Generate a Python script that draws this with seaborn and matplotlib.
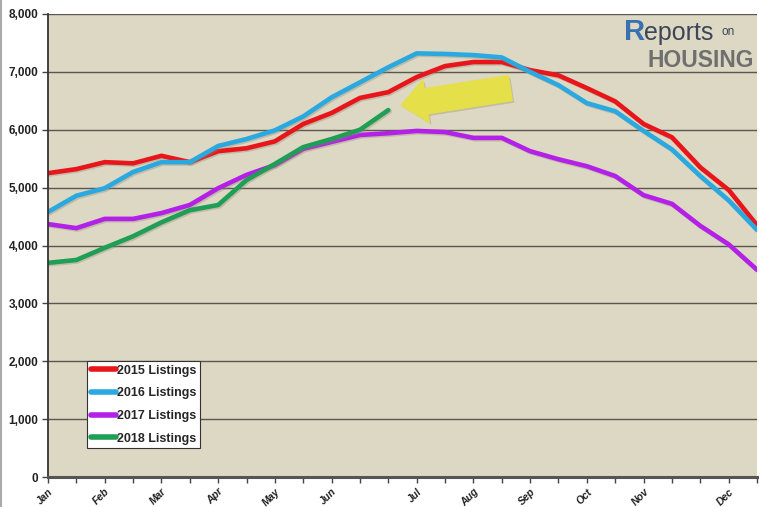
import numpy as np
import pandas as pd
import matplotlib
matplotlib.use("Agg")
import matplotlib.pyplot as plt
import matplotlib.patheffects as pe
import seaborn as sns

# ---- data (biweekly points, Jan..Dec) ----
periods = list(range(26))
listings_2015 = [5250, 5320, 5440, 5420, 5550, 5440, 5630, 5680, 5800, 6100, 6290, 6550, 6650,
                 6910, 7100, 7170, 7170, 7030, 6940, 6720, 6490, 6100, 5870, 5350, 4960, 4350]
listings_2016 = [4580, 4860, 4990, 5270, 5440, 5440, 5720, 5840, 5990, 6230, 6560, 6820, 7080,
                 7320, 7310, 7290, 7250, 7000, 6770, 6460, 6320, 5980, 5660, 5200, 4780, 4270]
listings_2017 = [4370, 4300, 4460, 4460, 4560, 4700, 4990, 5220, 5390, 5670, 5790, 5910, 5940,
                 5980, 5960, 5860, 5860, 5630, 5490, 5370, 5200, 4870, 4720, 4340, 4020, 3580]
listings_2018 = [3700, 3750, 3960, 4160, 4400, 4610, 4700, 5130, 5410, 5700, 5840, 6000, 6340]
series_names = ["2015 Listings", "2016 Listings", "2017 Listings", "2018 Listings"]
series_colors = ["#e8161b", "#2aa9e0", "#b320e8", "#1f9e55"]
month_labels = ["Jan", "Feb", "Mar", "Apr", "May", "Jun", "Jul", "Aug", "Sep", "Oct", "Nov", "Dec"]
month_ticks = [0, 2, 4, 6, 8, 10, 13, 15, 17, 19, 21, 24]
y_ticks = [0, 1000, 2000, 3000, 4000, 5000, 6000, 7000, 8000]

rows = []
for name, vals in zip(series_names, [listings_2015, listings_2016, listings_2017, listings_2018]):
    for p, v in zip(periods, vals):
        rows.append({"period": p, "listings": v, "series": name})
df = pd.DataFrame(rows)

sns.set_style("white")
plt.rcParams["font.family"] = ["Liberation Sans", "DejaVu Sans"]

fig = plt.figure(figsize=(7.59, 5.07), dpi=100)
fig.patch.set_facecolor("white")
ax = fig.add_axes([48 / 759, 1 - 477 / 507, (757 - 48) / 759, (477 - 14) / 507])
ax.set_facecolor("#ddd8c3")

sns.lineplot(data=df, x="period", y="listings", hue="series", palette=series_colors,
             hue_order=series_names, linewidth=3.3, ax=ax, legend=True,
             estimator=None, sort=False)
for line in ax.lines:
    line.set_path_effects([pe.SimpleLineShadow(offset=(1, -1), shadow_color="#8a8470", alpha=0.35),
                           pe.Normal()])

ax.set_xlim(0, 25)
ax.set_ylim(0, 8000)
ax.set_yticks(y_ticks)
ax.set_yticklabels([f"{v:,}" for v in y_ticks], fontsize=8.5, fontweight="bold", color="#222222")
ax.set_xticks(month_ticks)
ax.set_xticklabels(month_labels, rotation=45, ha="right", rotation_mode="anchor",
                   fontsize=7.5, fontweight="bold", fontstyle="italic", color="#222222")
ax.set_xticks(periods, minor=True)
ax.tick_params(axis="x", which="both", direction="out", length=4, width=1, color="#444444", pad=3, bottom=True)
ax.tick_params(axis="y", which="major", direction="out", length=4, width=1, color="#444444", pad=3, left=True)
ax.set_xlabel("")
ax.set_ylabel("")

ax.grid(axis="y", color="#5a5750", linewidth=1.0)
ax.grid(axis="x", visible=False)
ax.set_axisbelow(True)
for side in ["top", "right"]:
    ax.spines[side].set_visible(False)
ax.spines["left"].set_color("#333333")
ax.spines["left"].set_linewidth(1.3)
ax.spines["bottom"].set_color("#555555")
ax.spines["bottom"].set_linewidth(2.2)

leg = ax.legend(loc="lower left", bbox_to_anchor=(0.055, 0.062), frameon=True, fancybox=False,
                framealpha=1, edgecolor="#333333", fontsize=9, handlelength=2.0,
                handletextpad=0.1, borderpad=0.3, labelspacing=0.85, borderaxespad=0)
leg.get_frame().set_linewidth(0.8)
for t in leg.get_texts():
    t.set_fontweight("bold")
for h in leg.legend_handles:
    h.set_linewidth(4)
    h.set_path_effects([])

# yellow arrow annotation
ax.annotate("", xy=(0.498, 0.803), xytext=(0.652, 0.840), xycoords="axes fraction",
            textcoords="axes fraction",
            arrowprops=dict(arrowstyle="simple,head_length=1.3,head_width=2.2,tail_width=1.3",
                            mutation_scale=14, color="#e5df4a", shrinkA=0, shrinkB=0,
                            path_effects=[pe.SimplePatchShadow(offset=(1.5, -1.5), shadow_rgbFace="#9a9470", alpha=0.4),
                                          pe.Normal()]))

# logo
fig.text(0.822, 0.922, "R", fontsize=21, color="#3a6fb0", fontweight="bold", ha="left", va="baseline")
fig.text(0.848, 0.922, "eports", fontsize=18, color="#3d4656", ha="left", va="baseline")
fig.text(0.950, 0.930, "on", fontsize=8.5, color="#3d4656", ha="left", va="baseline")
fig.text(0.853, 0.868, "HOUSING", fontsize=16.5, color="#6f6f6f", fontweight="bold", ha="left", va="baseline")

# outer frame line on left edge
fig.add_artist(plt.Line2D([0.001, 0.001], [0, 1], transform=fig.transFigure, color="#aaaaaa", linewidth=1.5))

fig.savefig("out.png", dpi=100, facecolor="white")
